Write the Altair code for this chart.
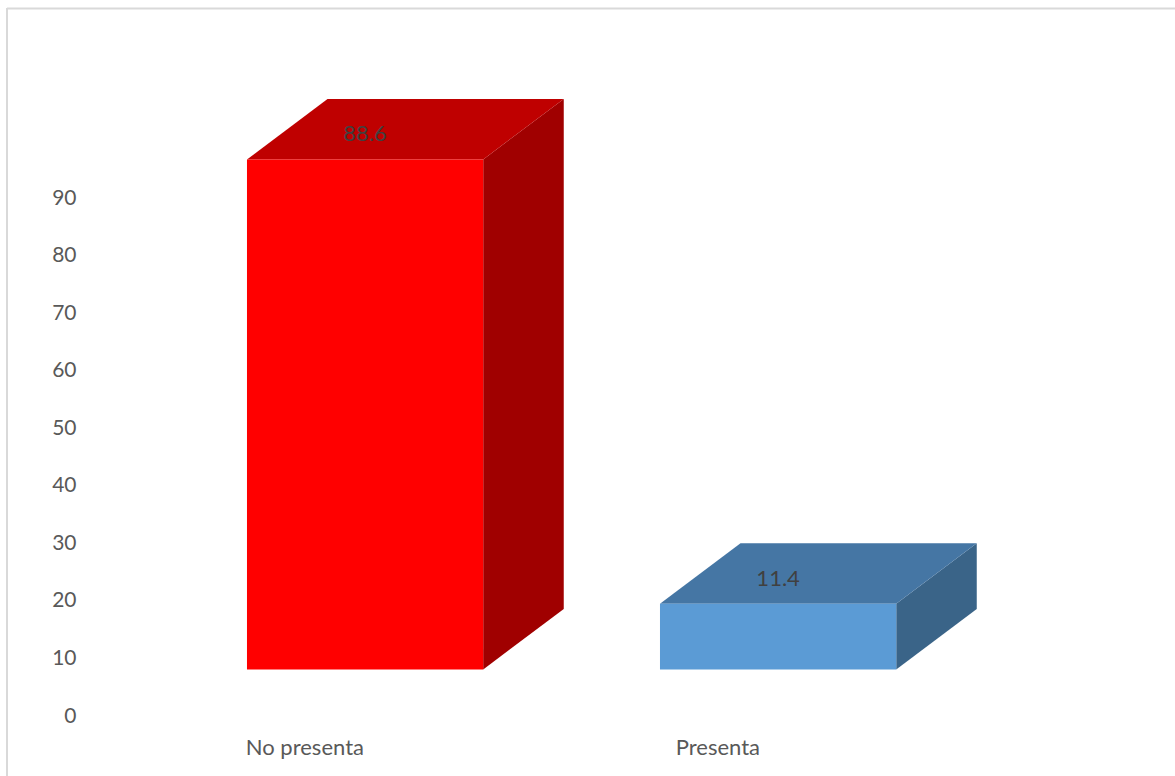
import json
import altair as alt
import pandas as pd

# Survey shares drawn as extruded columns
categories = ["No presenta", "Presenta"]
values = [88.6, 11.4]
front_colors = ["#ff0000", "#5b9bd5"]
top_colors = ["#bf0000", "#4576a4"]
side_colors = ["#a00000", "#3a6488"]
y_ticks = [0, 10, 20, 30, 40, 50, 60, 70, 80, 90]

# Column geometry in axis units: one x unit is the spacing between columns
BASE = 8.1
COLUMN_WIDTH = 0.572
DEPTH_X = 0.195
DEPTH_Y = 10.5
LABEL_SHIFT = 0.139
X_DOMAIN = [-0.598, 2.247]
Y_DOMAIN = [-10.42, 124.4]
FONT = "Lato"

front, top, side, labels = [], [], [], []
for i, (cat, val) in enumerate(zip(categories, values)):
    left, right, peak = i, i + COLUMN_WIDTH, BASE + val
    front.append(dict(cat=cat, x=left, x2=right, y=BASE, y2=peak))
    top += [
        dict(cat=cat, x=left, x2=right, y=peak),
        dict(cat=cat, x=left + DEPTH_X, x2=right + DEPTH_X, y=peak + DEPTH_Y),
    ]
    side += [
        dict(cat=cat, x=right, y=peak, y2=BASE),
        dict(cat=cat, x=right + DEPTH_X, y=peak + DEPTH_Y, y2=BASE + DEPTH_Y),
    ]
    labels.append(dict(cat=cat, x=left + COLUMN_WIDTH / 2, y=peak + 4.35, text=f"{val:.1f}"))

x_scale = alt.Scale(domain=X_DOMAIN, range=[0, 1175], nice=False, zero=False)
y_scale = alt.Scale(domain=Y_DOMAIN, range=[776, 0], nice=False, zero=False)
no_legend = dict(legend=None)


def fill(palette):
    return alt.Color("cat:N", scale=alt.Scale(domain=categories, range=palette), **no_legend)


frame_left = alt.Chart(pd.DataFrame({"a": [0]})).mark_rule(color="#d9d9d9", strokeWidth=2).encode(
    x=alt.value(7), y=alt.value(8), y2=alt.value(776)
)
frame_top = alt.Chart(pd.DataFrame({"a": [0]})).mark_rule(color="#d9d9d9", strokeWidth=2).encode(
    y=alt.value(8.5), x=alt.value(7), x2=alt.value(1175)
)

# Invisible layer that carries both axes
tick_positions = [i + LABEL_SHIFT for i in range(len(categories))]
label_expr = f"{json.dumps(categories)}[round(datum.value - {LABEL_SHIFT})]"
axes = alt.Chart(pd.DataFrame({"x": tick_positions, "y": [0, 0]})).mark_point(opacity=0).encode(
    x=alt.X("x:Q", scale=x_scale, title=None, axis=alt.Axis(
        values=tick_positions, labelExpr=label_expr, orient="bottom", offset=-60,
        domain=False, ticks=False, grid=False, labelPadding=31, labelFontSize=22,
        labelFont=FONT, labelColor="#595959", labelBaseline="middle",
    )),
    y=alt.Y("y:Q", scale=y_scale, title=None, axis=alt.Axis(
        values=y_ticks, orient="left", offset=-76, domain=False, ticks=False, grid=False,
        labelPadding=0, labelFontSize=21, labelFont=FONT, labelColor="#595959",
    )),
)

front_layer = alt.Chart(pd.DataFrame(front)).mark_rect().encode(
    x=alt.X("x:Q", scale=x_scale), x2="x2:Q",
    y=alt.Y("y:Q", scale=y_scale), y2="y2:Q",
    color=fill(front_colors),
)
top_layer = alt.Chart(pd.DataFrame(top)).mark_area(orient="horizontal").encode(
    x=alt.X("x:Q", scale=x_scale), x2="x2:Q",
    y=alt.Y("y:Q", scale=y_scale),
    color=fill(top_colors),
    detail="cat:N",
)
side_layer = alt.Chart(pd.DataFrame(side)).mark_area().encode(
    x=alt.X("x:Q", scale=x_scale),
    y=alt.Y("y:Q", scale=y_scale), y2="y2:Q",
    color=fill(side_colors),
    detail="cat:N",
)
value_labels = alt.Chart(pd.DataFrame(labels)).mark_text(
    fontSize=22, font=FONT, color="#404040", baseline="middle", align="center"
).encode(
    x=alt.X("x:Q", scale=x_scale),
    y=alt.Y("y:Q", scale=y_scale),
    text="text:N",
)

chart = (
    alt.layer(frame_left, frame_top, axes, side_layer, top_layer, front_layer, value_labels)
    .resolve_scale(color="independent")
    .properties(
        width=1175,
        height=776,
        padding=0,
        autosize=alt.AutoSizeParams(type="none"),
        background="white",
    )
    .configure_view(stroke=None)
)

chart.save("out.html", embed_options={"renderer": "svg", "actions": False})
